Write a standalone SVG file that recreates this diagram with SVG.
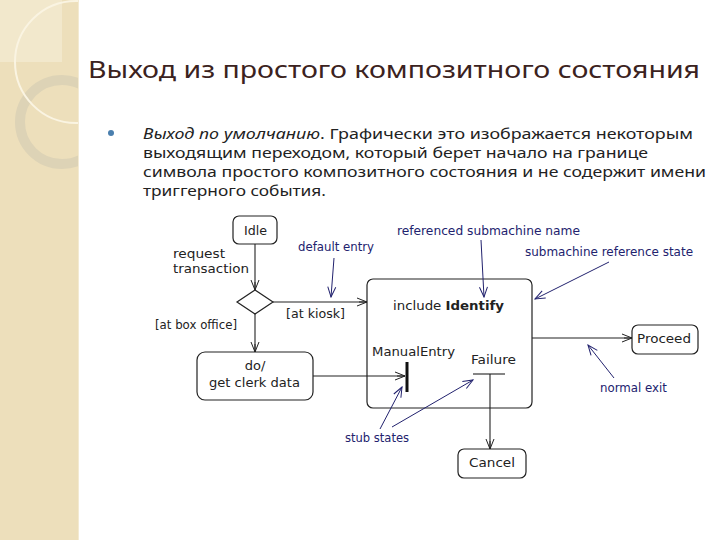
<svg xmlns="http://www.w3.org/2000/svg" width="720" height="540" viewBox="0 0 720 540">
<defs>
<style>
.title{font-family:"Noto Sans","Open Sans","Liberation Sans",sans-serif;font-size:24px;fill:#3b2220}
.body{font-family:"Noto Sans","Open Sans","Liberation Sans",sans-serif;font-size:15px;fill:#222}
.lbl{font-family:"DejaVu Sans","Liberation Sans",sans-serif;font-size:13px;fill:#222}
.ann{font-family:"DejaVu Sans","Liberation Sans",sans-serif;font-size:12px;fill:#22226e}
.st{fill:#fff;stroke:#222;stroke-width:1.2}
.ln{fill:none;stroke:#222;stroke-width:1.1}
.an{fill:none;stroke:#22226e;stroke-width:1}
</style>
<clipPath id="strip"><rect x="0" y="0" width="78" height="540"/></clipPath>
<marker id="ah" viewBox="0 0 12 10" refX="11" refY="5" markerWidth="12" markerHeight="10" markerUnits="userSpaceOnUse" orient="auto">
<path d="M1,1 L11,5 L1,9 M3,5 L11,5" fill="none" stroke="#222" stroke-width="1"/>
</marker>
<marker id="aa" viewBox="0 0 12 10" refX="11" refY="5" markerWidth="12" markerHeight="10" markerUnits="userSpaceOnUse" orient="auto">
<path d="M1,1 L11,5 L1,9" fill="none" stroke="#22226e" stroke-width="1"/>
</marker>
</defs>
<rect width="720" height="540" fill="#fff"/>
<g id="decor">
<rect x="0" y="0" width="78" height="540" fill="#eddfbb"/>
<g clip-path="url(#strip)">
<rect x="0" y="0" width="62" height="62" fill="#f2e8cc"/>
<circle cx="62" cy="122" r="42" fill="none" stroke="#ddd3b6" stroke-width="10"/>
<circle cx="76" cy="62" r="61" fill="none" stroke="#faf4e2" stroke-width="2"/>
</g>
<line x1="78.5" y1="0" x2="78.5" y2="540" stroke="#f3ead2" stroke-width="1"/>
</g>
<g id="text">
<text class="title" x="88" y="78" textLength="612" lengthAdjust="spacingAndGlyphs">Выход из простого композитного состояния</text>
<circle cx="111" cy="133" r="3" fill="#4a7fae"/>
<text class="body" x="143" y="139" textLength="550" lengthAdjust="spacingAndGlyphs"><tspan font-style="italic">Выход по умолчанию</tspan>. Графически это изображается некоторым</text>
<text class="body" x="143" y="158" textLength="505" lengthAdjust="spacingAndGlyphs">выходящим переходом, который берет начало на границе</text>
<text class="body" x="143" y="177" textLength="563" lengthAdjust="spacingAndGlyphs">символа простого композитного состояния и не содержит имени</text>
<text class="body" x="143" y="196" textLength="183" lengthAdjust="spacingAndGlyphs">триггерного события.</text>
</g>
<g id="idle">
<rect class="st" x="233" y="216" width="44" height="28" rx="6"/>
<text class="lbl" x="244" y="235" textLength="23" lengthAdjust="spacingAndGlyphs">Idle</text>
</g>
<g id="choice">
<polygon class="st" points="237,302 255,290 273,302 255,314"/>
</g>
<g id="clerk">
<rect class="st" x="197" y="352" width="116" height="48" rx="8"/>
<text class="lbl" x="255" y="370" text-anchor="middle">do/</text>
<text class="lbl" x="209" y="387" textLength="91" lengthAdjust="spacingAndGlyphs">get clerk data</text>
</g>
<g id="identify">
<rect class="st" x="367" y="279" width="165" height="129" rx="6"/>
<text class="lbl" x="393" y="310" font-size="14" textLength="111" lengthAdjust="spacingAndGlyphs">include <tspan font-weight="bold">Identify</tspan></text>
<text class="lbl" x="372" y="356" textLength="83" lengthAdjust="spacingAndGlyphs">ManualEntry</text>
<line x1="407" y1="362" x2="407" y2="392" stroke="#111" stroke-width="3"/>
<text class="lbl" x="471" y="364" textLength="45" lengthAdjust="spacingAndGlyphs">Failure</text>
<line x1="473" y1="374" x2="505" y2="374" stroke="#222" stroke-width="1.1"/>
</g>
<g id="proceed">
<rect class="st" x="632" y="325" width="66" height="29" rx="6"/>
<text class="lbl" x="637" y="343" textLength="54" lengthAdjust="spacingAndGlyphs">Proceed</text>
</g>
<g id="cancel">
<rect class="st" x="458" y="449" width="68" height="29" rx="6"/>
<text class="lbl" x="469" y="467" textLength="46" lengthAdjust="spacingAndGlyphs">Cancel</text>
</g>
<g id="connectors">
<line class="ln" x1="255" y1="244" x2="255" y2="290" marker-end="url(#ah)"/>
<line class="ln" x1="255" y1="314" x2="255" y2="352" marker-end="url(#ah)"/>
<line class="ln" x1="273" y1="302" x2="367" y2="302" marker-end="url(#ah)"/>
<line class="ln" x1="313" y1="376" x2="405" y2="376" marker-end="url(#ah)"/>
<line class="ln" x1="532" y1="338" x2="632" y2="338" marker-end="url(#ah)"/>
<line class="ln" x1="490" y1="374" x2="490" y2="449" marker-end="url(#ah)"/>
<line class="an" x1="334" y1="258" x2="331" y2="297" marker-end="url(#aa)"/>
<line class="an" x1="481" y1="240" x2="484" y2="297" marker-end="url(#aa)"/>
<line class="an" x1="609" y1="262" x2="535" y2="299" marker-end="url(#aa)"/>
<line class="an" x1="614" y1="378" x2="588" y2="345" marker-end="url(#aa)"/>
<line class="an" x1="380" y1="429" x2="402" y2="387" marker-end="url(#aa)"/>
<line class="an" x1="392" y1="427" x2="473" y2="380" marker-end="url(#aa)"/>
</g>
<g id="labels">
<text class="lbl" x="173" y="258" textLength="52" lengthAdjust="spacingAndGlyphs">request</text>
<text class="lbl" x="173" y="273" textLength="76" lengthAdjust="spacingAndGlyphs">transaction</text>
<text class="lbl" x="155" y="329" textLength="82" lengthAdjust="spacingAndGlyphs">[at box office]</text>
<text class="lbl" x="286" y="318" textLength="59" lengthAdjust="spacingAndGlyphs">[at kiosk]</text>
<text class="ann" x="298" y="251" textLength="76" lengthAdjust="spacingAndGlyphs">default entry</text>
<text class="ann" x="397" y="235" textLength="183" lengthAdjust="spacingAndGlyphs">referenced submachine name</text>
<text class="ann" x="525" y="256" textLength="168" lengthAdjust="spacingAndGlyphs">submachine reference state</text>
<text class="ann" x="600" y="392" textLength="67" lengthAdjust="spacingAndGlyphs">normal exit</text>
<text class="ann" x="345" y="442" textLength="64" lengthAdjust="spacingAndGlyphs">stub states</text>
</g>
</svg>
